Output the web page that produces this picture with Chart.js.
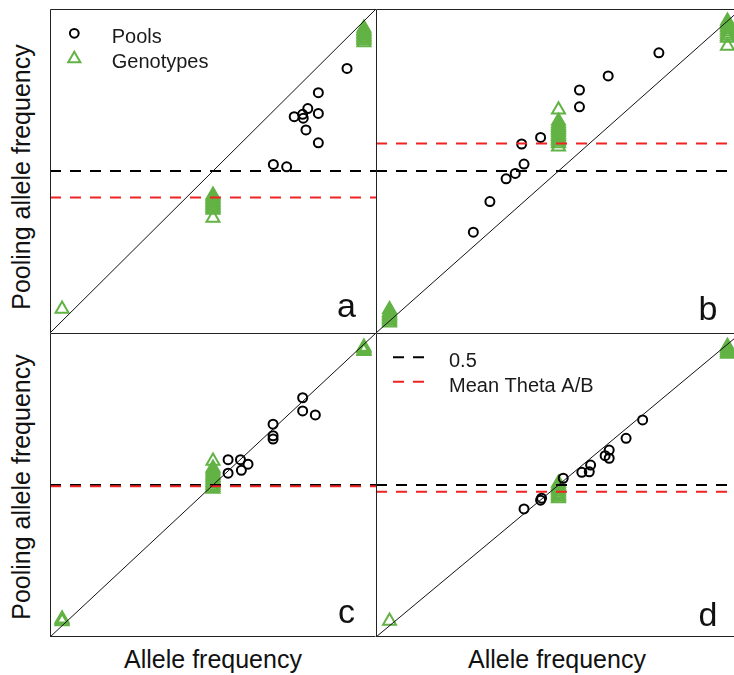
<!DOCTYPE html>
<html>
<head>
<meta charset="utf-8">
<script src="https://cdn.jsdelivr.net/npm/chart.js@4.4.1/dist/chart.umd.min.js"></script>
<style>
  html, body { margin: 0; padding: 0; background: #fff; }
  body { width: 734px; height: 675px; overflow: hidden; position: relative;
         font-family: "Liberation Sans", Arial, sans-serif; color: #111; }
  .panel { position: absolute; }
  .ylab, .xlab { position: absolute; width: 300px; height: 30px; line-height: 30px;
                 font-size: 25px; text-align: center; white-space: nowrap; }
  .ylab { transform: rotate(-90deg); }
</style>
</head>
<body>
<div class="panel" style="left:50px;top:9px;width:326px;height:324px"><canvas id="ca"></canvas></div>
<div class="panel" style="left:376px;top:9px;width:365px;height:324px"><canvas id="cb"></canvas></div>
<div class="panel" style="left:50px;top:333px;width:326px;height:304px"><canvas id="cc"></canvas></div>
<div class="panel" style="left:376px;top:333px;width:365px;height:304px"><canvas id="cd"></canvas></div>

<div class="ylab" style="left:-129px;top:162px">Pooling allele frequency</div>
<div class="ylab" style="left:-129px;top:472px">Pooling allele frequency</div>
<div class="xlab" style="left:63px;top:644px">Allele frequency</div>
<div class="xlab" style="left:407px;top:644px">Allele frequency</div>

<script>
// axis limits (R default: 4% extra on each side of 0..1)
const axisMin = -0.04
const axisMax = 1.04
// level of the black dashed line
const halfLevel = 0.5
// mean Theta A/B for panels a, b, c, d (red dashed line)
const meanThetaAB = [0.412, 0.592, 0.496, 0.476]
const panelLetters = ['a', 'b', 'c', 'd']
// allele frequency of each genotype class AA, AB, BB
const genotypeFreq = [0, 0.5, 1]

// pools: allele frequency (x) and pooling allele frequency (y)
const poolsA_x = [0.944, 0.849, 0.814, 0.849, 0.769, 0.797, 0.799, 0.808, 0.849, 0.700, 0.744]
const poolsA_y = [0.842, 0.761, 0.708, 0.692, 0.681, 0.689, 0.676, 0.637, 0.594, 0.522, 0.514]
const poolsB_x = [0.797, 0.647, 0.562, 0.562, 0.447, 0.391, 0.398, 0.372, 0.345, 0.297, 0.248]
const poolsB_y = [0.894, 0.817, 0.770, 0.714, 0.612, 0.590, 0.523, 0.492, 0.474, 0.398, 0.296]
const poolsC_x = [0.797, 0.797, 0.839, 0.699, 0.699, 0.699, 0.550, 0.591, 0.616, 0.594, 0.550]
const poolsC_y = [0.810, 0.763, 0.749, 0.716, 0.675, 0.663, 0.590, 0.590, 0.574, 0.552, 0.542]
const poolsD_x = [0.749, 0.700, 0.650, 0.638, 0.650, 0.595, 0.591, 0.569, 0.514, 0.450, 0.447, 0.398]
const poolsD_y = [0.731, 0.666, 0.624, 0.604, 0.595, 0.571, 0.547, 0.545, 0.524, 0.453, 0.446, 0.415]

// genotypes: pooling allele frequency per genotype class
const genoA_AA = [0.04]
const genoA_AB = [0.343, 0.37, 0.375, 0.38, 0.385, 0.39, 0.395, 0.40, 0.405, 0.41, 0.415, 0.42]
const genoA_BB = [0.928, 0.935, 0.94, 0.945, 0.95, 0.955, 0.96, 0.965, 0.97, 0.977]
const genoB_AA = [-0.006, 0.0, 0.005, 0.01, 0.015, 0.02, 0.025, 0.03, 0.038]
const genoB_AB = [0.581, 0.592, 0.598, 0.604, 0.61, 0.616, 0.622, 0.628, 0.634, 0.64, 0.646,
                  0.652, 0.658, 0.667, 0.704]
const genoB_BB = [0.917, 0.943, 0.95, 0.957, 0.964, 0.971, 0.978, 0.985, 0.992, 1.0]
const genoC_AA = [0.015, 0.02, 0.025]
const genoC_AB = [0.486, 0.492, 0.498, 0.504, 0.51, 0.516, 0.522, 0.528, 0.534, 0.54, 0.547,
                  0.554, 0.56, 0.585]
const genoC_BB = [0.975, 0.98, 0.986, 0.99]
const genoD_AA = [0.017]
const genoD_AB = [0.452, 0.458, 0.464, 0.47, 0.476, 0.482, 0.488, 0.494, 0.50, 0.507]
const genoD_BB = [0.965, 0.972, 0.979, 0.986, 0.993]

const green = '#62b244'
const red = '#f02222'
const fontFam = '"Liberation Sans", Arial, sans-serif'

function pts(xs, ys){
    return xs.map((x, i) => ({x: x, y: ys[i]}))
}
function genoPts(aa, ab, bb){
    var out = []
    ;[aa, ab, bb].forEach((ys, k) => ys.forEach(y => out.push({x: genotypeFreq[k], y: y})))
    return out
}
function hline(level){
    return [{x: axisMin, y: level}, {x: axisMax, y: level}]
}

// box round the plot region, only the sides asked for
const framePlugin = {
    id: 'frame',
    afterDraw(chart, args, opts){
        const a = chart.chartArea, ctx = chart.ctx
        ctx.save()
        ctx.strokeStyle = '#222'
        ctx.lineWidth = 1
        ctx.beginPath()
        const l = a.left + 0.5, t = a.top + 0.5, r = a.right - 0.5, b = a.bottom - 0.5
        if (opts.sides.includes('t')) { ctx.moveTo(l, t); ctx.lineTo(r, t) }
        if (opts.sides.includes('l')) { ctx.moveTo(l, t); ctx.lineTo(l, b) }
        if (opts.sides.includes('b')) { ctx.moveTo(l, b); ctx.lineTo(r, b) }
        ctx.stroke()
        ctx.restore()
    }
}

// panel letter in the bottom right corner
const letterPlugin = {
    id: 'letter',
    afterDraw(chart, args, opts){
        const ctx = chart.ctx
        const px = chart.scales.x.getPixelForValue(0.942)
        const py = chart.scales.y.getPixelForValue(0.043)
        ctx.save()
        ctx.font = '34px ' + fontFam
        ctx.fillStyle = '#111'
        ctx.textAlign = 'center'
        ctx.textBaseline = 'alphabetic'
        const m = ctx.measureText(opts.text)
        ctx.fillText(opts.text, px, py + (m.actualBoundingBoxAscent - m.actualBoundingBoxDescent) / 2)
        ctx.restore()
    }
}

// legend drawn inside the plot region, top left
const innerLegend = {
    id: 'innerLegend',
    afterDraw(chart, args, opts){
        if (!opts.items) return
        const a = chart.chartArea, ctx = chart.ctx
        ctx.save()
        ctx.font = '20px ' + fontFam
        opts.items.forEach((it, i) => {
            const y = a.top + 24.3 + i * 24.5
            if (it.kind === 'circle') {
                ctx.strokeStyle = '#000'; ctx.lineWidth = 2
                ctx.beginPath(); ctx.arc(a.left + 24.3, y, 4.4, 0, Math.PI * 2); ctx.stroke()
            } else if (it.kind === 'triangle') {
                const r = 7, cx = a.left + 24.3
                ctx.strokeStyle = green; ctx.lineWidth = 2
                ctx.beginPath()
                for (let k = 0; k < 3; k++) {
                    const ang = k * 2 * Math.PI / 3
                    ctx.lineTo(cx + Math.sin(ang) * r, y - Math.cos(ang) * r + 1)
                }
                ctx.closePath(); ctx.stroke()
            } else {
                ctx.strokeStyle = it.color; ctx.lineWidth = 2
                ctx.setLineDash([11, 9])
                ctx.beginPath(); ctx.moveTo(a.left + 17, y); ctx.lineTo(a.left + 49, y); ctx.stroke()
                ctx.setLineDash([])
            }
            ctx.fillStyle = '#1a1a1a'
            ctx.textAlign = 'left'
            ctx.textBaseline = 'alphabetic'
            ctx.fillText(it.label, a.left + it.tx, y + 10)
        })
        ctx.restore()
    }
}

function makePanel(id, idx, pools, geno, sides, legendItems){
    const ctx = document.getElementById(id)
    new Chart(ctx, {
        type: 'scatter',
        data: {
            datasets: [
                {   // 1:1 line
                    data: [{x: axisMin, y: axisMin}, {x: axisMax, y: axisMax}],
                    showLine: true, borderColor: '#111', borderWidth: 1,
                    pointRadius: 0, order: 0
                },
                {   // mean Theta A/B
                    data: hline(meanThetaAB[idx]),
                    showLine: true, borderColor: red, borderWidth: 2, borderDash: [11, 9],
                    pointRadius: 0, order: 1
                },
                {   // 0.5
                    data: hline(halfLevel),
                    showLine: true, borderColor: '#000', borderWidth: 2, borderDash: [11, 9],
                    pointRadius: 0, order: 2
                },
                {   // pools
                    data: pools,
                    pointStyle: 'circle', pointRadius: 4.5, borderWidth: 2,
                    borderColor: '#000', backgroundColor: 'rgba(0,0,0,0)', order: 3
                },
                {   // genotypes
                    data: geno,
                    pointStyle: 'triangle', pointRadius: 7.5, borderWidth: 2,
                    borderColor: green, backgroundColor: 'rgba(0,0,0,0)', order: 4
                }
            ]
        },
        options: {
            responsive: true,
            maintainAspectRatio: false,
            animation: false,
            devicePixelRatio: 1,
            layout: { padding: 0, autoPadding: false },
            events: [],
            plugins: {
                legend: { display: false },
                tooltip: { enabled: false },
                frame: { sides: sides },
                letter: { text: panelLetters[idx] },
                innerLegend: { items: legendItems }
            },
            scales: {
                x: { type: 'linear', min: axisMin, max: axisMax, display: false },
                y: { type: 'linear', min: axisMin, max: axisMax, display: false }
            }
        },
        plugins: [framePlugin, letterPlugin, innerLegend]
    })
}

makePanel('ca', 0, pts(poolsA_x, poolsA_y), genoPts(genoA_AA, genoA_AB, genoA_BB), 'tl',
    [{kind: 'circle', label: 'Pools', tx: 61.7}, {kind: 'triangle', label: 'Genotypes', tx: 61.7}])
makePanel('cb', 1, pts(poolsB_x, poolsB_y), genoPts(genoB_AA, genoB_AB, genoB_BB), 'tl', null)
makePanel('cc', 2, pts(poolsC_x, poolsC_y), genoPts(genoC_AA, genoC_AB, genoC_BB), 'tlb', null)
makePanel('cd', 3, pts(poolsD_x, poolsD_y), genoPts(genoD_AA, genoD_AB, genoD_BB), 'tlb',
    [{kind: 'dash', color: '#000', label: '0.5', tx: 73}, {kind: 'dash', color: red, label: 'Mean Theta A/B', tx: 73}])
</script>
</body>
</html>
